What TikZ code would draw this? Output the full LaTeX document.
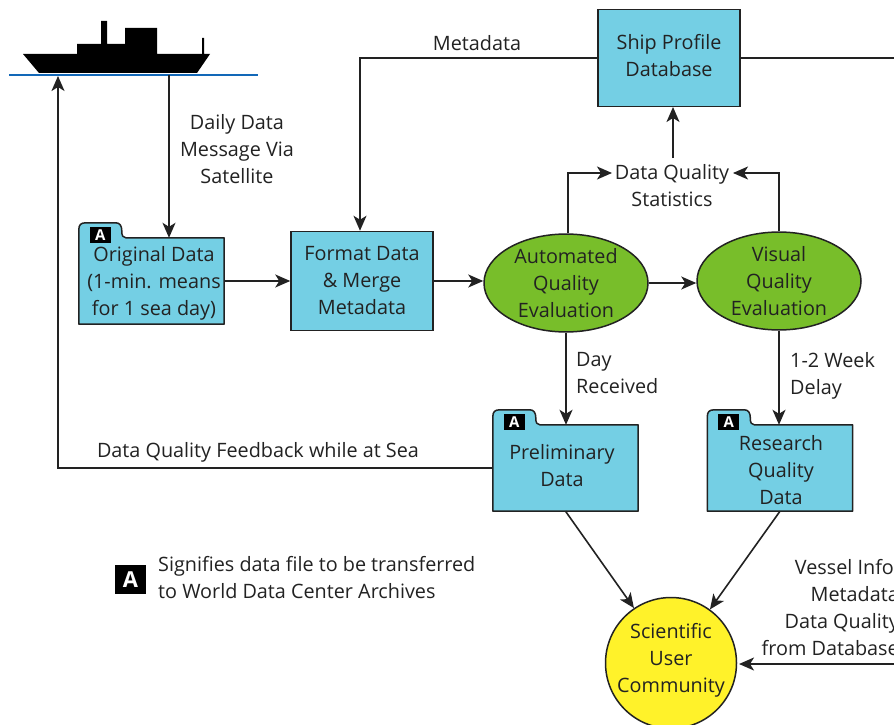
\documentclass[tikz,border=0pt]{standalone}
\usepackage{fontspec}
\setmainfont{Open Sans}
\usetikzlibrary{arrows.meta,calc,shapes.geometric}
\definecolor{boxblue}{HTML}{74CFE4}
\definecolor{evalgreen}{HTML}{78BE2A}
\definecolor{usery}{HTML}{FFF22A}
\definecolor{inkc}{HTML}{222222}
\definecolor{sea}{HTML}{1268B8}
\newcommand{\lbl}{\fontsize{19.8}{27}\selectfont}
\tikzset{
 txt/.style={font=\lbl,align=center,text=inkc,inner sep=0pt},
 txtl/.style={font=\lbl,align=left,text=inkc,inner sep=0pt},
 procbox/.style={draw=inkc,line width=1.5pt,fill=boxblue,rectangle,inner sep=0pt,font=\lbl,align=center,text=inkc},
 evalell/.style={draw=inkc,line width=1.5pt,fill=evalgreen,ellipse,inner sep=0pt,font=\lbl,align=center,text=inkc},
 foldernode/.style={rectangle,inner sep=0pt,minimum width=145pt,minimum height=86pt},
 foldline/.style={draw=inkc,line width=1.5pt,fill=boxblue,line join=round},
 abox/.style={fill=black,text=white,inner sep=0pt,minimum width=21pt,minimum height=16pt,font=\bfseries\fontsize{15}{15}\selectfont},
 conn/.style={draw=inkc,line width=1.6pt,-{Stealth[length=15pt,width=13pt,inset=4pt]}},
 plainconn/.style={draw=inkc,line width=1.6pt},
}
\newcommand{\foldershape}[1]{%
 \draw[foldline] (#1.south west) -- ($(#1.north west)+(0,-8)$)
   .. controls ($(#1.north west)+(0,-13)$) and ($(#1.north west)+(2,-15)$) .. ($(#1.north west)+(7,-15)$)
   -- ($(#1.north west)+(37,-15)$)
   .. controls ($(#1.north west)+(41,-15)$) and ($(#1.north west)+(43,-12)$) .. ($(#1.north west)+(43,-7)$)
   .. controls ($(#1.north west)+(43,-2)$) and ($(#1.north west)+(44,0)$) .. ($(#1.north west)+(47,0)$)
   -- (#1.north east) -- (#1.south east) -- cycle;
 \node[abox] (#1tag) at ($(#1.north west)+(21.5,-3)$) {A};
}
\begin{document}
\begin{tikzpicture}[x=1pt,y=-1pt]
\useasboundingbox (0,0) rectangle (894,725);
\clip (0,0) rectangle (894,725);
\fill[white] (0,0) rectangle (894,725);
% ship
\fill[black] (23,54) -- (77,54) -- (77,44) -- (101,44) -- (101,21) -- (107,21) -- (107,44) -- (125,44) -- (125,28) -- (157,28) -- (157,54) -- (202,54) -- (202,38) -- (204,38) -- (204,54) -- (210,54) -- (197,73) -- (39,73) -- cycle;
\coordinate (seaL) at (9,75);
\coordinate (seaR) at (258,75);
\draw[sea,line width=2.6pt] (seaL) -- (seaR);
\coordinate (shipdown) at (169,75);
\coordinate (shipfeed) at (58,76);
% nodes
\node[procbox,minimum width=142pt,minimum height=97pt,text depth=0pt] (ship) at (669,58) {};
\node[txt] (shipt) at (669,55.5) {Ship Profile\\Database};
\node[procbox,minimum width=142pt,minimum height=99pt] (format) at (362,281) {Format Data\\\& Merge\\Metadata};
\node[evalell,minimum width=164pt,minimum height=94pt] (auto) at (566,283) {Automated\\Quality\\Evaluation};
\node[evalell,minimum width=164pt,minimum height=92pt] (visual) at (779,281) {Visual\\Quality\\Evaluation};
\node[foldernode] (orig) at (151.5,281) {};
\foldershape{orig}
\node[txt] (origt) at (154,283) {Original Data\\(1-min. means\\for 1 sea day)};
\node[foldernode] (prelim) at (565.5,468) {};
\foldershape{prelim}
\node[txt] (prelimt) at (562,466) {Preliminary\\Data};
\node[foldernode] (research) at (780,468) {};
\foldershape{research}
\node[txt] (researcht) at (781,470) {Research\\Quality\\Data};
\node[circle,draw=inkc,line width=1.5pt,fill=usery,minimum size=131pt,inner sep=0pt] (user) at (671,663) {};
\node[txt] (usert) at (671,660) {Scientific\\User\\Community};
\node[txt] (stats) at (672,186) {Data Quality\\Statistics};
\node[txt] (daily) at (237,149) {Daily Data\\Message Via\\Satellite};
\node[txt] (metalbl) at (477,43) {Metadata};
\node[txtl,anchor=west] (daylbl) at (576,373) {Day\\Received};
\node[txtl,anchor=west] (weeklbl) at (790,376) {1-2 Week\\Delay};
\node[txt] (feedlbl) at (258,452) {Data Quality Feedback while at Sea};
\node[abox,minimum width=31pt,minimum height=29pt,font=\bfseries\fontsize{22}{22}\selectfont] (legA) at (130.5,579.5) {A};
\node[txtl,anchor=west] (legt) at (158,578) {Signifies data file to be transferred\\to World Data Center Archives};
\node[font=\lbl,align=right,text=inkc,inner sep=0pt,anchor=east] (vessel) at (899,608) {Vessel Info,\\Metadata\\Data Quality\\from Database};
\coordinate (edgeT) at (894,58);
\coordinate (edgeB) at (894,664);
\coordinate (metabend) at (360,58);
\coordinate (autobend) at (568,173);
\coordinate (visbend) at (779,173);
% connectors
\draw[conn] (shipdown) -- (shipdown |- orig.north);
\draw[conn] (orig.east) -- (format.west);
\draw[conn] (format.east) -- (auto.west |- format.east);
\draw[conn] (auto.east) -- (visual.west |- auto.east);
\draw[conn] (ship.west) -- (metabend) -- (metabend |- format.north);
\draw[plainconn] (ship.east) -- (edgeT);
\draw[conn] (prelim.west) -- (shipfeed |- prelim.west) -- (shipfeed);
\draw[conn] (autobend |- auto.north) -- (autobend) -- (612,173);
\draw[conn] (visual.north) -- (visbend) -- (733,173);
\draw[conn] (673,158) -- (673,107);
\draw[conn] (auto.south) -- (prelim.north -| auto.south);
\draw[conn] (visual.south) -- (research.north -| visual.south);
\draw[conn] (prelim.south) -- (user.124);
\draw[conn] (research.south) -- (user.54);
\draw[conn] (edgeB) -- (739,664);
\end{tikzpicture}
\end{document}
